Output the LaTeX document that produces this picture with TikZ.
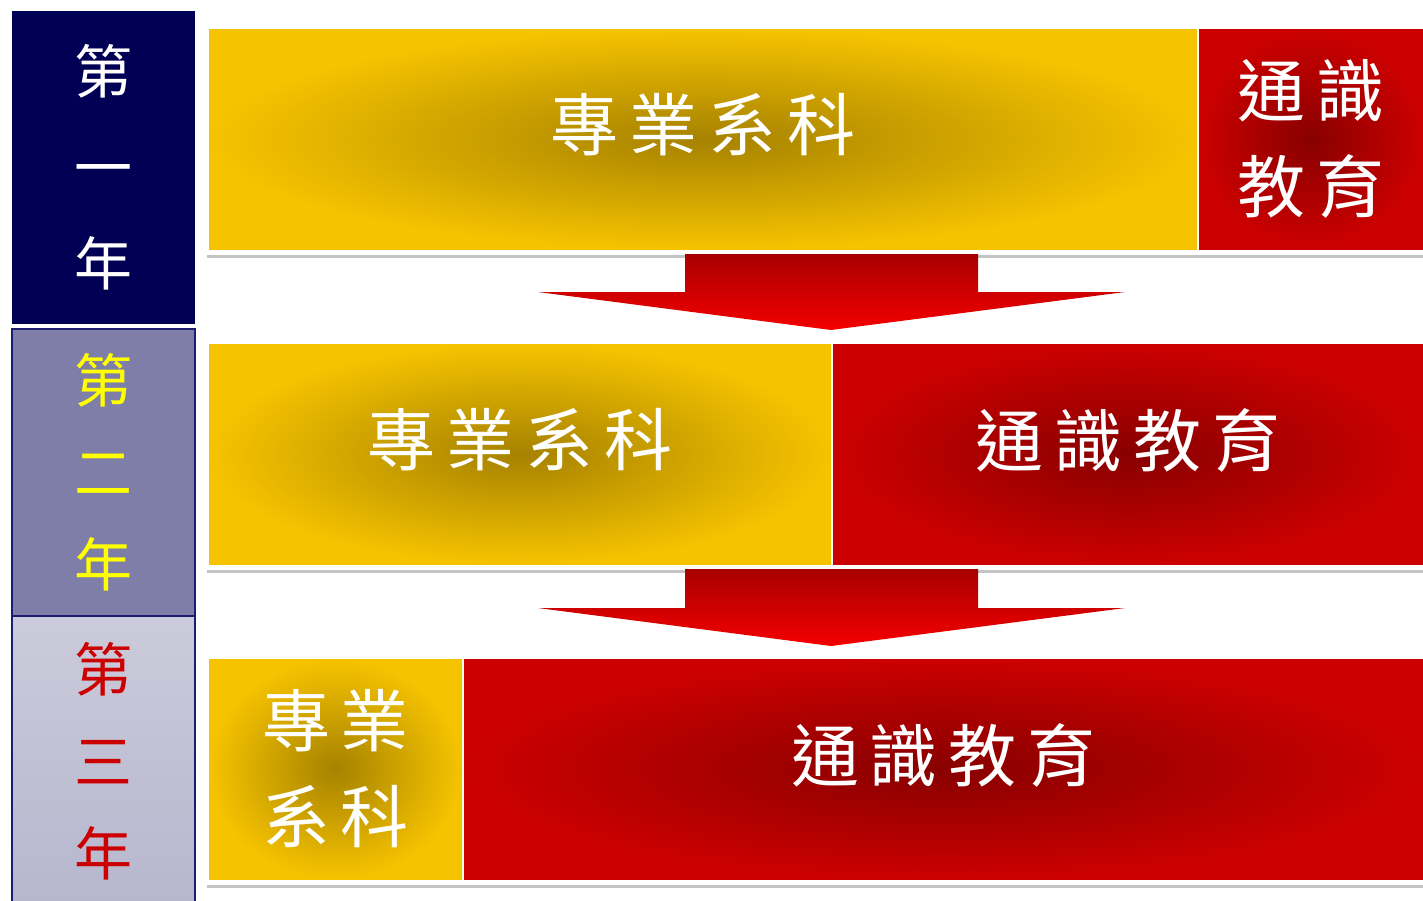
\documentclass[tikz,border=0pt]{standalone}
\usepackage{fontspec}
\newfontfamily\cjk{Noto Sans CJK TC}
\definecolor{navy}{HTML}{000055}
\definecolor{navyline}{HTML}{1C1C70}
\definecolor{yeartwo}{HTML}{7E7EA8}
\definecolor{yearthreetop}{HTML}{CBCBDB}
\definecolor{yearthreebot}{HTML}{B6B6CE}
\definecolor{goldout}{HTML}{F6C300}
\definecolor{goldin}{HTML}{A68200}
\definecolor{redout}{HTML}{CC0000}
\definecolor{redin}{HTML}{880000}
\definecolor{arrowtop}{HTML}{A80000}
\definecolor{arrowbot}{HTML}{F40000}
\definecolor{rule}{HTML}{C4C4C4}
\definecolor{yellowtxt}{HTML}{FFFF00}
\definecolor{redtxt}{HTML}{CC0000}
\tikzset{
  cell/.style={inner sep=0pt, outer sep=0pt, anchor=north west, align=center,
    text=white, font=\cjk\fontsize{68}{96}\selectfont},
  goldbar/.style={cell, inner color=goldin, outer color=goldout},
  redbar/.style={cell, inner color=redin, outer color=redout},
  yearbox/.style={inner sep=0pt, outer sep=0pt, anchor=north west, align=center,
    font=\cjk\fontsize{58}{92}\selectfont},
  sep/.style={draw=rule, line width=3pt},
  bigarrow/.style={top color=arrowtop, bottom color=arrowbot, draw=none}
}
\newcommand{\gp}{\hspace{11pt}}
\newcommand{\up}[1]{\raisebox{34pt}{#1}}
\begin{document}
\begin{tikzpicture}[x=1pt,y=-1pt]
\useasboundingbox (0,0) rectangle (1423,900);
\fill[white] (0,0) rectangle (1423,900);

% left column
\node[yearbox, fill=navy, text=white, minimum width=183pt, minimum height=313pt,
  font=\cjk\fontsize{58}{96}\selectfont] (y1) at (12,11) {第\\一\\年};
\node[yearbox, fill=yeartwo, draw=navyline, line width=2pt, text=yellowtxt, minimum width=183pt, minimum height=287pt] (y2) at (12,329) {第\\二\\年};
\node[yearbox, top color=yearthreetop, bottom color=yearthreebot, draw=navyline, line width=2pt, text=redtxt, minimum width=183pt, minimum height=290pt] (y3) at (12,616) {第\\三\\年};

% rules under rows
\coordinate (r1a) at (207,256); \coordinate (r1b) at (1423,256);
\coordinate (r2a) at (207,571); \coordinate (r2b) at (1423,571);
\coordinate (r3a) at (207,886); \coordinate (r3b) at (1423,886);
\draw[sep] (r1a) -- (r1b);
\draw[sep] (r2a) -- (r2b);
\draw[sep] (r3a) -- (r3b);

% row 1
\node[goldbar, minimum width=988pt, minimum height=220pt] (g1) at (209,29) {\up{專\gp 業\gp 系\gp 科}};
\node[redbar, minimum width=224pt, minimum height=220pt] (e1) at (1199,29) {通\gp 識\\教\gp 育};

% row 2
\node[goldbar, minimum width=622pt, minimum height=220pt] (g2) at (209,344) {\up{專\gp 業\gp 系\gp 科}};
\node[redbar, minimum width=590pt, minimum height=220pt] (e2) at (833,344) {\up{通\gp 識\gp 教\gp 育}};

% row 3
\node[goldbar, minimum width=253pt, minimum height=220pt] (g3) at (209,659) {專\gp 業\\系\gp 科};
\node[redbar, minimum width=959pt, minimum height=220pt] (e3) at (464,659) {\up{通\gp 識\gp 教\gp 育}};

% arrows
\shade[bigarrow] (685,254) -- (978,254) -- (978,292) -- (1125,292) -- (831,330) -- (538,292) -- (685,292) -- cycle;
\shade[bigarrow] (685,569) -- (978,569) -- (978,608) -- (1125,608) -- (831,646) -- (538,608) -- (685,608) -- cycle;
\end{tikzpicture}
\end{document}
